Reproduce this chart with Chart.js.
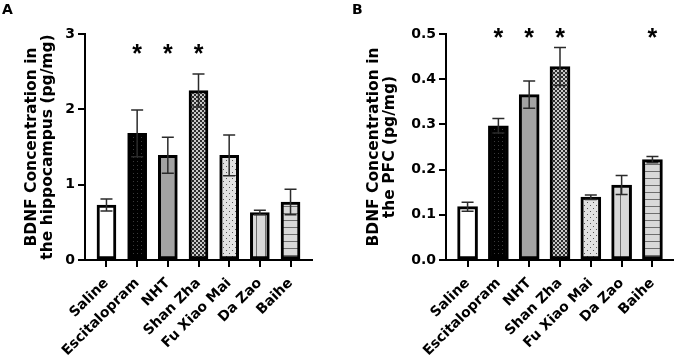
<!DOCTYPE html>
<html>
<head>
<meta charset="utf-8">
<script src="https://cdn.jsdelivr.net/npm/chart.js@4.4.1/dist/chart.umd.min.js"></script>
<style>
  body { margin: 0; background: #fff; }
  #wrap { position: relative; width: 674px; height: 362px; overflow: hidden; }
  .panel { position: absolute; top: 0; width: 337px; height: 362px; }
  .letter { position: absolute; top: 1px; font-family: "DejaVu Sans", sans-serif; font-weight: bold; font-size: 14px; color: #000; }
</style>
</head>
<body>
<div id="wrap">
  <div class="panel" style="left:0"><canvas id="chartA" width="337" height="362"></canvas></div>
  <div class="panel" style="left:337px"><canvas id="chartB" width="337" height="362"></canvas></div>
  <div class="letter" style="left:2px">A</div>
  <div class="letter" style="left:352px">B</div>
</div>
<script>
// group names on the x axis
const groups = ["Saline", "Escitalopram", "NHT", "Shan Zha", "Fu Xiao Mai", "Da Zao", "Baihe"];

// panel A: hippocampus (mean, SEM, significance)
const hippoMean = [0.73, 1.68, 1.39, 2.25, 1.39, 0.63, 0.77];
const hippoSem = [0.08, 0.31, 0.24, 0.22, 0.27, 0.03, 0.17];
const hippoSig = [false, true, true, true, false, false, false];
const hippoTicks = [0, 1, 2, 3];

// panel B: PFC
const pfcMean = [0.118, 0.297, 0.366, 0.428, 0.139, 0.166, 0.222];
const pfcSem = [0.010, 0.016, 0.030, 0.042, 0.005, 0.021, 0.007];
const pfcSig = [false, true, true, true, false, false, true];
const pfcTicks = [0, 0.1, 0.2, 0.3, 0.4, 0.5];

const FONT = "'DejaVu Sans', sans-serif";

// small repeating fills, one per group
function makePattern(size, bg, paint) {
  const c = document.createElement("canvas");
  c.width = size;
  c.height = size;
  const g = c.getContext("2d");
  g.fillStyle = bg;
  g.fillRect(0, 0, size, size);
  paint(g);
  return g.createPattern(c, "repeat");
}

function groupFills() {
  return [
    "#ffffff",
    makePattern(4, "#000000", g => { g.fillStyle = "#3a3a3a"; g.fillRect(1, 1, 1, 1); }),
    "#a3a3a3",
    makePattern(4, "#c9c9c9", g => { g.fillStyle = "#2e2e2e"; g.fillRect(0, 0, 2, 2); g.fillRect(2, 2, 2, 2); }),
    makePattern(6, "#e2e2e2", g => { g.fillStyle = "#555"; g.fillRect(1, 1, 1, 1); g.fillRect(4, 4, 1, 1); }),
    makePattern(9, "#d9d9d9", g => { g.fillStyle = "#6e6e6e"; g.fillRect(4, 0, 1, 9); }),
    makePattern(7, "#d9d9d9", g => { g.fillStyle = "#6e6e6e"; g.fillRect(0, 3, 7, 1); })
  ];
}

// error bars and asterisks drawn on top of the bars
const extrasPlugin = {
  id: "extras",
  afterDatasetsDraw(chart, args, opts) {
    const ctx = chart.ctx;
    const y = chart.scales.y;
    const meta = chart.getDatasetMeta(0);
    ctx.save();
    meta.data.forEach((bar, i) => {
      const m = opts.means[i];
      const s = opts.sems[i];
      const top = y.getPixelForValue(m + s);
      const bot = y.getPixelForValue(m - s);
      ctx.strokeStyle = "#2b2b2b";
      ctx.lineWidth = 1.5;
      ctx.beginPath();
      ctx.moveTo(bar.x, top);
      ctx.lineTo(bar.x, bot);
      ctx.moveTo(bar.x - 6, top);
      ctx.lineTo(bar.x + 6, top);
      ctx.moveTo(bar.x - 6, bot);
      ctx.lineTo(bar.x + 6, bot);
      ctx.stroke();
      if (opts.sig[i]) {
        ctx.fillStyle = "#000";
        ctx.font = "bold 25px 'Liberation Sans', Arial, sans-serif";
        ctx.textAlign = "center";
        ctx.textBaseline = "alphabetic";
        ctx.fillText("*", bar.x, y.getPixelForValue(opts.sigLevel) + 14);
      }
    });
    ctx.restore();
  }
};

function makeChart(id, means, sems, sig, ticks, cfg) {
  const ctx = document.getElementById(id).getContext("2d");
  return new Chart(ctx, {
    type: "bar",
    data: {
      datasets: [{
        data: means.map((v, i) => ({ x: i, y: v })),
        backgroundColor: groupFills(),
        borderColor: "#000",
        borderWidth: 3,
        borderSkipped: false,
        barThickness: cfg.barThickness
      }]
    },
    options: {
      responsive: false,
      animation: false,
      devicePixelRatio: 1,
      layout: { padding: { top: 34, right: cfg.padRight, bottom: 0, left: 0 } },
      plugins: {
        legend: { display: false },
        tooltip: { enabled: false },
        extras: { means, sems, sig, sigLevel: cfg.sigLevel }
      },
      scales: {
        x: {
          type: "linear",
          offset: false,
          min: -0.7,
          max: 6.7,
          afterBuildTicks: scale => { scale.ticks = groups.map((g, i) => ({ value: i })); },
          afterFit: scale => { scale.height = 102; },
          border: { color: "#000", width: 2 },
          grid: { offset: false, drawOnChartArea: false, drawTicks: true, tickLength: 7, color: "#000", lineWidth: 2 },
          ticks: {
            autoSkip: false,
            minRotation: 45,
            maxRotation: 45,
            padding: 8,
            color: "#000",
            font: { family: FONT, size: 14, weight: "bold" },
            callback: v => groups[v]
          }
        },
        y: {
          min: 0,
          max: ticks[ticks.length - 1],
          afterBuildTicks: scale => { scale.ticks = ticks.map(v => ({ value: v })); },
          afterFit: scale => { scale.width = cfg.yWidth; },
          border: { color: "#000", width: 2 },
          grid: { drawOnChartArea: false, drawTicks: true, tickLength: 7, color: "#000", lineWidth: 2 },
          ticks: {
            padding: 3,
            color: "#000",
            font: { family: FONT, size: 14, weight: "bold" },
            callback: v => v.toFixed(cfg.decimals)
          },
          title: {
            display: true,
            text: cfg.title,
            color: "#000",
            padding: { top: cfg.titlePad, bottom: 0 },
            font: { family: FONT, size: 15.5, weight: "bold", lineHeight: 1.05 }
          }
        }
      }
    },
    plugins: [extrasPlugin]
  });
}

makeChart("chartA", hippoMean, hippoSem, hippoSig, hippoTicks, {
  title: ["BDNF Concentration in", "the hippocampus (pg/mg)"],
  yWidth: 85, padRight: 25, titlePad: 24, decimals: 0, sigLevel: 2.82, barThickness: 19
});

makeChart("chartB", pfcMean, pfcSem, pfcSig, pfcTicks, {
  title: ["BDNF Concentration in", "the PFC (pg/mg)"],
  yWidth: 109, padRight: 0, titlePad: 29, decimals: 1, sigLevel: 0.505, barThickness: 20
});
</script>
</body>
</html>
